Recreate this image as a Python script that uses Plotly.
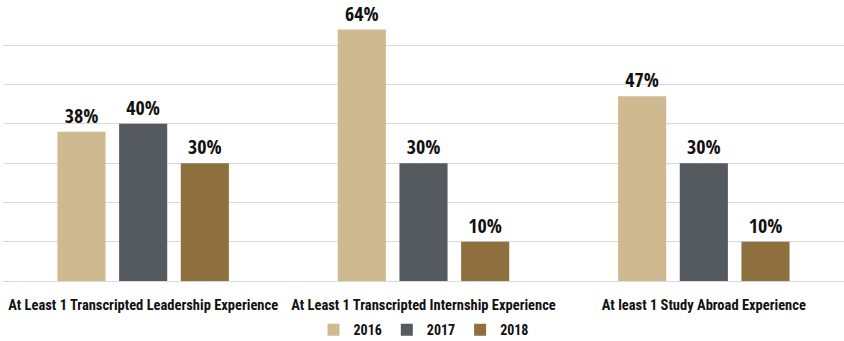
import plotly.graph_objects as go

categories = [
    "At Least 1 Transcripted Leadership Experience",
    "At Least 1 Transcripted Internship Experience",
    "At least 1 Study Abroad Experience",
]
years = ["2016", "2017", "2018"]
values_2016 = [38, 64, 47]
values_2017 = [40, 30, 30]
values_2018 = [30, 10, 10]
colors = ["#CFB991", "#555960", "#8E6F3E"]

series = [values_2016, values_2017, values_2018]

LABEL_FONT = "Roboto Condensed, Open Sans Condensed, sans-serif"
VALUE_FONT = "Open Sans Condensed, Roboto Condensed, sans-serif"

fig = go.Figure()
for year, vals, col in zip(years, series, colors):
    fig.add_trace(go.Bar(
        name=year,
        x=categories,
        y=vals,
        marker=dict(color=col, line=dict(width=0)),
        texttemplate="%{y}%",
        textposition="outside",
        textfont=dict(family=VALUE_FONT, size=20, color="#111111", weight="bold"),
        cliponaxis=False,
    ))

fig.update_layout(
    width=844,
    height=341,
    margin=dict(l=3, r=0, t=6, b=60, autoexpand=False),
    paper_bgcolor="white",
    plot_bgcolor="white",
    barmode="group",
    bargap=0.34,
    bargroupgap=0.22,
    font=dict(family=LABEL_FONT, color="#111111"),
    showlegend=True,
    legend=dict(
        orientation="h",
        x=0.5, xanchor="center",
        y=0.032, yanchor="middle", yref="container",
        font=dict(size=14, weight="bold"),
        itemwidth=30,
        tracegroupgap=0,
    ),
    xaxis=dict(
        showgrid=False,
        showline=True,
        linecolor="#d9d9d9",
        linewidth=1,
        ticks="outside",
        ticklen=11,
        tickcolor="rgba(0,0,0,0)",
        tickangle=0,
        automargin=False,
        tickfont=dict(size=14.5, weight="bold"),
    ),
    yaxis=dict(
        range=[0, 70],
        dtick=10,
        showticklabels=False,
        showgrid=True,
        gridcolor="#d9d9d9",
        gridwidth=1,
        zeroline=False,
        automargin=False,
    ),
)

fig.write_html("out.html")
